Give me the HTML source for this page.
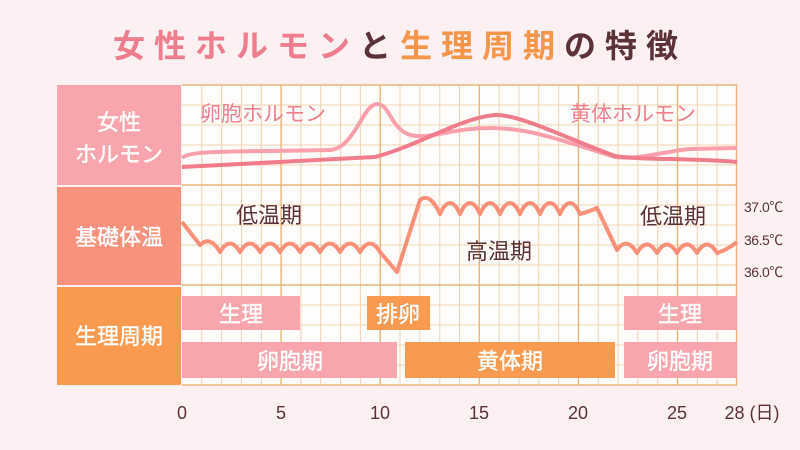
<!DOCTYPE html>
<html><head><meta charset="utf-8"><style>
html,body{margin:0;padding:0;background:#fdf0f2;}
svg{display:block;font-family:"Liberation Sans","Noto Sans CJK JP",sans-serif;}
</style></head><body>
<svg width="800" height="450" viewBox="0 0 800 450" xmlns="http://www.w3.org/2000/svg">
<rect width="800" height="450" fill="#fdf0f2"/>
<text x="400" y="57" text-anchor="middle" font-size="32" font-weight="bold" letter-spacing="9"><tspan fill="#ef7d8d">女性ホルモン</tspan><tspan fill="#5a3237">と</tspan><tspan fill="#f7954a">生理周期</tspan><tspan fill="#5a3237">の特徴</tspan></text>
<rect x="182" y="85" width="555" height="300" fill="#fffdfb"/>
<path d="M201.8,85V385M221.6,85V385M241.5,85V385M261.3,85V385M300.9,85V385M320.7,85V385M340.6,85V385M360.4,85V385M400,85V385M419.8,85V385M439.8,85V385M459.5,85V385M499.1,85V385M518.9,85V385M538.8,85V385M558.6,85V385M598.2,85V385M618,85V385M637.9,85V385M657.7,85V385M697.3,85V385M717.1,85V385M182,105H737M182,125H737M182,145H737M182,165H737M182,205H737M182,225H737M182,245H737M182,265H737M182,305H737M182,325H737M182,345H737M182,365H737" stroke="#f1d2b2" stroke-width="1" fill="none"/>
<path d="M281.1,85V385M380.2,85V385M479.3,85V385M578.4,85V385M677.5,85V385M736.5,85V385M182,85H737M182,185H737M182,285H737M182,385H737" stroke="#eab57a" stroke-width="1.4" fill="none"/>
<rect x="57" y="85" width="124" height="100" fill="#f9a5ad"/>
<rect x="57" y="187" width="124" height="98" fill="#f8927c"/>
<rect x="57" y="287" width="124" height="98" fill="#f99a50"/>
<g fill="#fff" font-size="22" text-anchor="middle" stroke="#fff" stroke-width="0.4">
<text x="119" y="130">女性</text><text x="119" y="162">ホルモン</text>
<text x="119" y="245">基礎体温</text>
<text x="119" y="344">生理周期</text>
</g>
<g fill="#ef8090" font-size="21">
<text x="200" y="121">卵胞ホルモン</text>
<text x="570" y="121">黄体ホルモン</text>
</g>
<path d="M182,158 C190,150 230,152 330,150 C355,148 362,105 377,104 C390,104 390,128 410,135 C430,140 450,128 490,128 C530,128 560,140 615,157 C640,160 660,152 690,149 L737,148" fill="none" stroke="#f9a0ac" stroke-width="4"/>
<path d="M182,167 L375,157 C420,145 460,118 495,115 C520,114 570,140 615,156 C640,160 690,158 737,162" fill="none" stroke="#f07c8c" stroke-width="4"/>
<g fill="#5a3237" font-size="22">
<text x="236" y="223">低温期</text>
<text x="466" y="259">高温期</text>
<text x="640" y="224">低温期</text>
</g>
<path id="temp" d="" fill="none" stroke="#f9907a" stroke-width="4" stroke-linejoin="round"/>
<script>
(function(){
var d='M182,222 L200,245';var x=200;
while(x<380){d+=' Q'+(x+10)+',235 '+(x+20)+',252';x+=20;}
d+=' L397,272 L420,200';x=420;
while(x<580){d+=' Q'+(x+10)+',192 '+(x+20)+',214';x+=20;}
d+=' Q588,212 597,208 L617,250';x=617;
while(x<717){d+=' Q'+(x+10)+',236 '+(x+20)+',253';x+=20;}
d+=' Q727,250 737,242';
document.getElementById('temp').setAttribute('d',d);})();
</script>
<g fill="#5a3237" font-size="14" letter-spacing="-0.5">
<text x="744" y="212">37.0℃</text>
<text x="744" y="245">36.5℃</text>
<text x="744" y="277">36.0℃</text>
</g>
<rect x="182" y="296" width="118" height="34" fill="#f9a5ad"/>
<rect x="367" y="296" width="63" height="34" fill="#f99a50"/>
<rect x="624" y="296" width="113" height="34" fill="#f9a5ad"/>
<rect x="182" y="342" width="215" height="36" fill="#f9a5ad"/>
<rect x="405" y="342" width="210" height="36" fill="#f99a50"/>
<rect x="624" y="342" width="113" height="36" fill="#f9a5ad"/>
<g fill="#fff" font-size="22" text-anchor="middle" stroke="#fff" stroke-width="0.4">
<text x="241" y="322">生理</text>
<text x="398" y="322">排卵</text>
<text x="680" y="322">生理</text>
<text x="290" y="369">卵胞期</text>
<text x="510" y="369">黄体期</text>
<text x="680" y="369">卵胞期</text>
</g>
<g fill="#5a3237" font-size="18" text-anchor="middle">
<text x="182" y="419">0</text>
<text x="281" y="419">5</text>
<text x="380" y="419">10</text>
<text x="479" y="419">15</text>
<text x="578" y="419">20</text>
<text x="677" y="419">25</text>
<text x="752" y="419">28 (日)</text>
</g>
</svg>
</body></html>
